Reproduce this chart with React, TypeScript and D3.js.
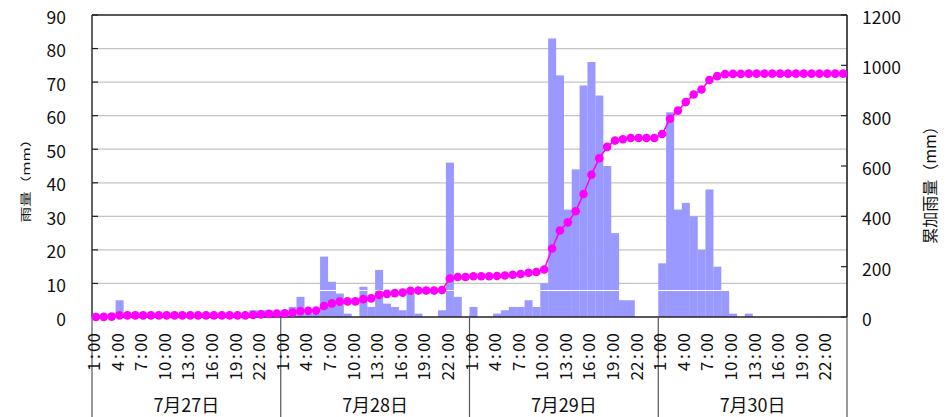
import React, { useEffect } from "react";
import * as d3 from "d3";

// ---- data ----
const DATES = ["7月27日", "7月28日", "7月29日", "7月30日"];
const HOUR_TICKS = ["1:00", "4:00", "7:00", "10:00", "13:00", "16:00", "19:00", "22:00"];
const rain27 = [0, 0.5, 1, 5, 0, 0, 0, 0, 0, 0, 0, 0, 0, 0, 0, 0, 0, 0, 0, 0, 2, 2, 2, 1];
const rain28 = [1, 3, 6, 1, 1, 18, 10.5, 7, 1, 0, 9, 3, 14, 4, 3, 2, 7, 1, 0, 0, 2, 46, 6, 0];
const rain29 = [3, 0, 0, 1, 2, 3, 3, 5, 3, 10, 83, 72, 32, 44, 69, 76, 66, 45, 25, 5, 5, 0, 0, 0];
const rain30 = [16, 61, 32, 34, 30, 20, 38, 15, 8, 1, 0, 1, 0, 0, 0, 0, 0, 0, 0, 0, 0, 0, 0, 0];
const LEFT_TICKS = [0, 10, 20, 30, 40, 50, 60, 70, 80, 90];
const RIGHT_TICKS = [0, 200, 400, 600, 800, 1000, 1200];
const LEFT_TITLE = "雨量（mm）";
const RIGHT_TITLE = "累加雨量（mm）";

const W = 950;
const H = 417;
const PL = 92, PR = 847, PT = 15, PB = 317;
const FONT = "'Noto Sans CJK JP', 'Noto Sans', sans-serif";
const BAR = "#9999FF";
const LINE = "#FF00FF";

export default function App() {
  useEffect(() => {
    document.body.style.margin = "0";
  }, []);

  const rain = [...rain27, ...rain28, ...rain29, ...rain30];
  const cum = Array.from(d3.cumsum(rain));
  const idx = d3.range(rain.length);

  const x = d3.scaleBand<number>().domain(idx).range([PL, PR]).paddingInner(0).paddingOuter(0);
  const bw = x.bandwidth();
  const yL = d3.scaleLinear().domain([0, 90]).range([PB, PT]);
  const yR = d3.scaleLinear().domain([0, 1200]).range([PB, PT]);

  const linePath = d3
    .line<number>()
    .x((_, i) => (x(i) as number) + bw / 2)
    .y((d) => yR(d))(cum) as string;

  const dayEdges = d3.range(DATES.length + 1).map((d) => (d < DATES.length ? (x(d * 24) as number) : PR));

  return (
    <svg
      width={W}
      height={H}
      viewBox={`0 0 ${W} ${H}`}
      style={{ position: "absolute", left: 0, top: 0, display: "block", background: "#fff" }}
      fontFamily={FONT}
    >
      <rect x={0} y={0} width={W} height={H} fill="#fff" />
      {/* gridlines */}
      {LEFT_TICKS.filter((t) => t > 0 && t < 90).map((t) => (
        <line key={"g" + t} x1={PL} x2={PR} y1={yL(t)} y2={yL(t)} stroke="#c4c4c4" strokeWidth={1.2} />
      ))}
      {/* bars */}
      {rain.map((v, i) =>
        v > 0 ? (
          <rect key={"b" + i} x={x(i)} y={yL(v)} width={bw + 0.15} height={PB - yL(v)} fill={BAR} />
        ) : null
      )}
      {/* thin white seam across the bars */}
      <line x1={PL} x2={PR} y1={yL(7.9)} y2={yL(7.9)} stroke="#fff" strokeWidth={1} />

      {/* frame */}
      <line x1={PL} x2={PR} y1={PT} y2={PT} stroke="#222" strokeWidth={1.6} />
      <line x1={PL} x2={PR} y1={PB} y2={PB} stroke="#222" strokeWidth={1.4} />
      <line x1={PL} x2={PL} y1={PT} y2={PB} stroke="#222" strokeWidth={1.4} />
      <line x1={PR} x2={PR} y1={PT} y2={PB} stroke="#222" strokeWidth={1.6} />

      {/* left ticks & labels */}
      {LEFT_TICKS.map((t) => (
        <g key={"l" + t}>
          <line x1={PL} x2={PL + 6} y1={yL(t)} y2={yL(t)} stroke="#222" strokeWidth={1.2} />
          <text x={66} y={yL(t) + 1} textAnchor="end" dominantBaseline="central" fontSize={17.5} fill="#111">
            {t}
          </text>
        </g>
      ))}
      {/* right ticks & labels */}
      {RIGHT_TICKS.map((t) => (
        <g key={"r" + t}>
          <line x1={PR - 6} x2={PR} y1={yR(t)} y2={yR(t)} stroke="#222" strokeWidth={1.2} />
          <text x={862} y={yR(t) + 1.5} textAnchor="start" dominantBaseline="central" fontSize={17.5} fill="#111">
            {t}
          </text>
        </g>
      ))}

      {/* day separators below the axis */}
      {dayEdges.map((ex, i) => (
        <line key={"s" + i} x1={ex} x2={ex} y1={PB} y2={H} stroke="#555" strokeWidth={1.2} />
      ))}

      {/* hour labels */}
      {DATES.map((_, d) =>
        HOUR_TICKS.map((lab) => {
          const [hh, mm] = lab.split(":");
          const h = parseInt(hh, 10);
          const i = d * 24 + (h - 1);
          const lx = x(i) as number;
          return (
            <text
              key={"h" + d + lab}
              transform={`translate(${lx},333) rotate(-90)`}
              textAnchor="end"
              dominantBaseline="central"
              fontSize={17}
              fill="#111"
            >
              <tspan>{hh}</tspan>
              <tspan dx={2.5}>:</tspan>
              <tspan dx={2.5}>{mm}</tspan>
            </text>
          );
        })
      )}

      {/* date labels */}
      {DATES.map((lab, d) => (
        <text
          key={"d" + d}
          x={(dayEdges[d] + dayEdges[d + 1]) / 2}
          y={412}
          textAnchor="middle"
          fontSize={18}
          fill="#111"
        >
          {lab}
        </text>
      ))}

      {/* axis titles */}
      <text
        transform={`translate(25,177) rotate(-90) scale(1,0.72)`}
        textAnchor="middle"
        dominantBaseline="central"
        fontSize={15.5}
        fill="#111"
      >
        {LEFT_TITLE}
      </text>
      <text
        transform={`translate(929,181) rotate(-90)`}
        textAnchor="middle"
        dominantBaseline="central"
        fontSize={16}
        fill="#111"
      >
        {RIGHT_TITLE}
      </text>

      {/* cumulative line */}
      <path d={linePath} fill="none" stroke={LINE} strokeWidth={1.6} />
      {cum.map((v, i) => (
        <circle key={"c" + i} cx={(x(i) as number) + bw / 2} cy={yR(v)} r={4.3} fill={LINE} />
      ))}
    </svg>
  );
}
